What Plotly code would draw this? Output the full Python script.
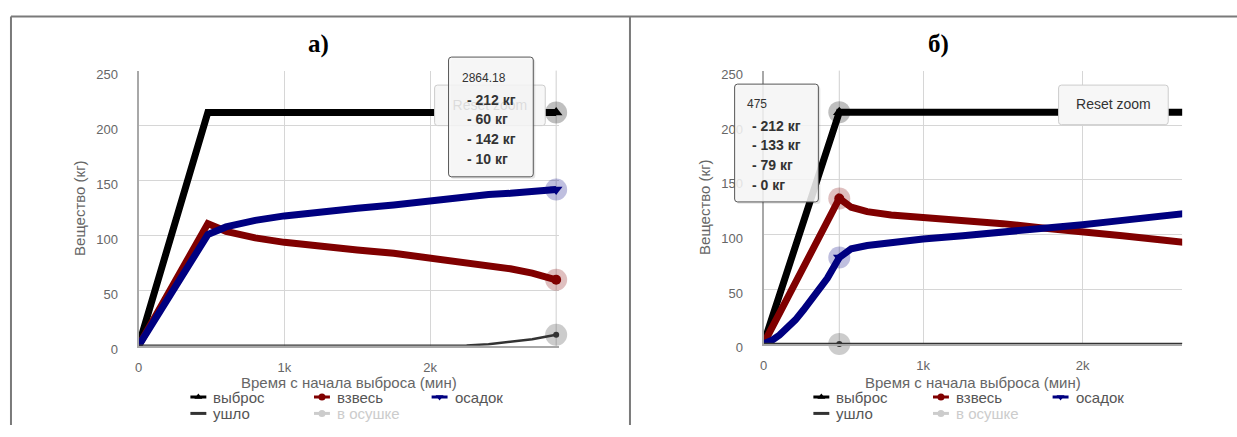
import plotly.graph_objects as go

W, H = 1237, 437

# ---------------- data ----------------
series_names = ["выброс", "взвесь", "осадок", "ушло", "в осушке"]
series_colors = ["#000000", "#800000", "#000080", "#333333", "#cccccc"]

# panel а)
time_a = [0, 475, 600, 800, 1000, 1250, 1500, 1750, 2000, 2250, 2400, 2550, 2700, 2864.18]
vybros_a = [0, 212, 212, 212, 212, 212, 212, 212, 212, 212, 212, 212, 212, 212]
vzves_a = [0, 111, 104, 98, 94, 90, 87, 84, 80, 76, 73, 70, 66, 60]
osadok_a = [0, 101, 108, 114, 118, 122, 125, 128, 132, 136, 137.5, 138.5, 140, 142]
ushlo_a = [0, 0, 0, 0, 0, 0, 0, 0, 0, 0.3, 1.5, 3.5, 6, 10]
hover_idx_a = 13

# panel б)
time_b = [0, 50, 100, 150, 200, 250, 300, 350, 400, 475, 550, 650, 800, 1000, 1250, 1500, 1750, 2000, 2250, 2500, 2750]
vybros_b = [0, 22, 45, 67, 89, 112, 134, 156, 179, 212, 212, 212, 212, 212, 212, 212, 212, 212, 212, 212, 212]
vzves_b = [0, 14, 28, 42, 56, 70, 84, 98, 112, 133, 125, 121, 118, 116, 113, 110, 106, 103, 99, 95, 91]
osadok_b = [0, 3, 8, 14, 22, 31, 40, 50, 60, 79, 87, 90, 93, 96, 99, 102, 106, 109, 113, 117, 121]
ushlo_b = [0, 0, 0, 0, 0, 0, 0, 0, 0, 0, 0, 0, 0, 0, 0, 0, 0, 0, 0, 0, 0]
hover_idx_b = 9

x_tick_vals = [0, 1000, 2000]
x_tick_text = ["0", "1k", "2k"]
y_tick_vals = [0, 50, 100, 150, 200, 250]
panel_titles = ["а)", "б)"]
x_title = "Время с начала выброса (мин)"
y_title = "Вещество (кг)"
unit = "кг"
reset_text = "Reset zoom"

# ---------------- layout helpers ----------------
FONT = "Liberation Sans, Arial, sans-serif"
GRID = "#d6d6d6"
TICK = "#666666"

panels = [
    dict(t=time_a, s=[vybros_a, vzves_a, osadok_a, ushlo_a], hi=hover_idx_a,
         xdom=[135, 557], ydom=[70, 355], xmax=2885, xa="x", ya="y",
         title_x=316, ytitle_x=75, legend_x=[187, 311, 429], tip=[446, 531, 56, 180],
         tip_tx=457, tip_ty=78, btn=[432, 543, 85, 127]),
    dict(t=time_b, s=[vybros_b, vzves_b, osadok_b, ushlo_b], hi=hover_idx_b,
         xdom=[762, 1182], ydom=[70, 353], xmax=2625, xa="x2", ya="y2",
         title_x=938, ytitle_x=703, legend_x=[812, 932, 1052], tip=[733, 817, 84, 206],
         tip_tx=743, tip_ty=105, btn=[1058, 1168, 85, 126]),
]

fig = go.Figure()
shapes = []
annotations = []

def rrect(x0, x1, y0, y1, r):
    return (f"M{x0+r},{y0} L{x1-r},{y0} Q{x1},{y0} {x1},{y0+r} L{x1},{y1-r} Q{x1},{y1} {x1-r},{y1} "
            f"L{x0+r},{y1} Q{x0},{y1} {x0},{y1-r} L{x0},{y0+r} Q{x0},{y0} {x0+r},{y0} Z")

widths = [7, 7, 7, 2.5]
hover_symbols = ["triangle-up", "circle", "triangle-down", "circle"]
hover_sizes = [11, 10, 11, 6]

for p in panels:
    xa, ya = p["xa"], p["ya"]
    # hover crosshair
    shapes.append(dict(type="line", xref=xa, yref=f"{ya} domain", x0=p["t"][p["hi"]], x1=p["t"][p["hi"]],
                       y0=0, y1=1, line=dict(color="#cfcfcf", width=1), layer="below"))
    for k in range(4):
        fig.add_trace(go.Scatter(x=p["t"], y=p["s"][k], mode="lines", xaxis=xa, yaxis=ya,
                                 line=dict(color=series_colors[k], width=widths[k]),
                                 showlegend=False, hoverinfo="skip"))
    # hover halos + markers
    for k in range(4):
        xv, yv = [p["t"][p["hi"]]], [p["s"][k][p["hi"]]]
        fig.add_trace(go.Scatter(x=xv, y=yv, mode="markers", xaxis=xa, yaxis=ya, cliponaxis=False,
                                 marker=dict(size=22, color=series_colors[k], opacity=0.25),
                                 showlegend=False, hoverinfo="skip"))
        fig.add_trace(go.Scatter(x=xv, y=yv, mode="markers", xaxis=xa, yaxis=ya, cliponaxis=False,
                                 marker=dict(size=hover_sizes[k], symbol=hover_symbols[k],
                                             color=series_colors[k]),
                                 showlegend=False, hoverinfo="skip"))

# ---------- pixel canvas overlay (x3/y3) ----------
for i, p in enumerate(panels):
    # reset zoom button
    b = p["btn"]
    shapes.append(dict(type="path", xref="x3", yref="y3", path=rrect(b[0], b[1], b[2], b[3], 3),
                       fillcolor="#f7f7f7", line=dict(color="#cccccc", width=1), layer="below"))
    fig.add_trace(go.Scatter(x=[(b[0] + b[1]) / 2], y=[(b[2] + b[3]) / 2 + 1], mode="text",
                             text=[reset_text], textfont=dict(family=FONT, size=14, color="#333333"),
                             xaxis="x3", yaxis="y3", showlegend=False, hoverinfo="skip"))
    # legend
    ly = [408, 425]
    pos = [(p["legend_x"][0], ly[0]), (p["legend_x"][1], ly[0]), (p["legend_x"][2], ly[0]),
           (p["legend_x"][0], ly[1]), (p["legend_x"][1], ly[1])]
    leg_sym = ["triangle-up", "circle", "triangle-down", None, "circle"]
    for k, name in enumerate(series_names):
        x0, y0 = pos[k]
        fig.add_trace(go.Scatter(x=[x0, x0 + 16], y=[y0, y0], mode="lines", xaxis="x3", yaxis="y3",
                                 line=dict(color=series_colors[k], width=3),
                                 showlegend=False, hoverinfo="skip"))
        if leg_sym[k]:
            fig.add_trace(go.Scatter(x=[x0 + 8], y=[y0], mode="markers", xaxis="x3", yaxis="y3",
                                     marker=dict(symbol=leg_sym[k], size=7, color=series_colors[k]),
                                     showlegend=False, hoverinfo="skip"))
        annotations.append(dict(x=x0 + 21, y=y0, xref="x3", yref="y3", text=name, showarrow=False,
                                xanchor="left", yanchor="middle",
                                font=dict(family=FONT, size=15,
                                          color="#cccccc" if k == 4 else "#555555")))
    # tooltip
    t = p["tip"]
    shapes.append(dict(type="path", xref="x3", yref="y3", path=rrect(t[0] + 2, t[1] + 2, t[2] + 2, t[3] + 2, 3),
                       fillcolor="rgba(0,0,0,0.10)", line=dict(width=0), layer="above"))
    shapes.append(dict(type="path", xref="x3", yref="y3", path=rrect(t[0], t[1], t[2], t[3], 3),
                       fillcolor="rgba(248,248,248,0.86)", line=dict(color="#555555", width=1),
                       layer="above"))
    hv = p["t"][p["hi"]]
    annotations.append(dict(x=p["tip_tx"], y=p["tip_ty"], xref="x3", yref="y3",
                            text=f"{hv:g}", showarrow=False, xanchor="left", yanchor="middle",
                            font=dict(family=FONT, size=12, color="#333333")))
    for k in range(4):
        v = p["s"][k][p["hi"]]
        annotations.append(dict(x=p["tip_tx"] + 5, y=p["tip_ty"] + 22 + 20.5 * k, xref="x3", yref="y3",
                                text=f"<b>- {v:.0f} {unit}</b>", showarrow=False,
                                xanchor="left", yanchor="middle",
                                font=dict(family=FONT, size=14, color="#333333")))
    # panel title, axis titles
    annotations.append(dict(x=p["title_x"], y=42, xref="x3", yref="y3", text=f"<b>{panel_titles[i]}</b>",
                            showarrow=False, xanchor="center", yanchor="middle",
                            font=dict(family="Liberation Serif, Times New Roman, serif", size=25, color="#000000")))
    annotations.append(dict(x=(p["xdom"][0] + p["xdom"][1]) / 2, y=393, xref="x3", yref="y3",
                            text=x_title, showarrow=False, xanchor="center", yanchor="middle",
                            font=dict(family=FONT, size=15, color="#666666")))
    annotations.append(dict(x=p["ytitle_x"], y=(p["ydom"][0] + p["ydom"][1]) / 2, xref="x3", yref="y3",
                            text=y_title, textangle=-90, showarrow=False, xanchor="center", yanchor="middle",
                            font=dict(family=FONT, size=15, color="#666666")))

# table borders
border = dict(color="#7a7a7a", width=2)
shapes += [
    dict(type="line", xref="x3", yref="y3", x0=7, x1=W, y0=14, y1=14, line=border, layer="above"),
    dict(type="line", xref="x3", yref="y3", x0=7, x1=7, y0=14, y1=H, line=border, layer="above"),
    dict(type="line", xref="x3", yref="y3", x0=628, x1=628, y0=14, y1=H, line=border, layer="above"),
]

layout = dict(
    width=W, height=H, margin=dict(l=0, r=0, t=0, b=0, pad=0),
    paper_bgcolor="white", plot_bgcolor="rgba(0,0,0,0)",
    showlegend=False, shapes=shapes, annotations=annotations,
    font=dict(family=FONT),
    xaxis3=dict(domain=[0, 1], range=[0, W], visible=False, fixedrange=True, anchor="y3"),
    yaxis3=dict(domain=[0, 1], range=[H, 0], visible=False, fixedrange=True, anchor="x3"),
)
for i, p in enumerate(panels):
    sx = "" if i == 0 else "2"
    layout[f"xaxis{sx}"] = dict(
        domain=[p["xdom"][0] / W, p["xdom"][1] / W], range=[0, p["xmax"]], anchor=p["ya"],
        tickvals=x_tick_vals, ticktext=x_tick_text, showgrid=True, gridcolor=GRID, gridwidth=1,
        zeroline=False, showline=True, linecolor="#a8a8a8", linewidth=2,
        ticks="", ticklabelstandoff=9, tickfont=dict(family=FONT, size=13, color=TICK))
    layout[f"yaxis{sx}"] = dict(
        domain=[1 - p["ydom"][1] / H, 1 - p["ydom"][0] / H], range=[0, 250], anchor=p["xa"],
        tickvals=y_tick_vals, showgrid=True, gridcolor=GRID, gridwidth=1,
        zeroline=False, showline=True, linecolor="#a8a8a8", linewidth=2,
        ticks="", ticklabelstandoff=16, ticklabelshift=4, tickfont=dict(family=FONT, size=13, color=TICK))

fig.update_layout(**layout)
fig.write_html("out.html")
